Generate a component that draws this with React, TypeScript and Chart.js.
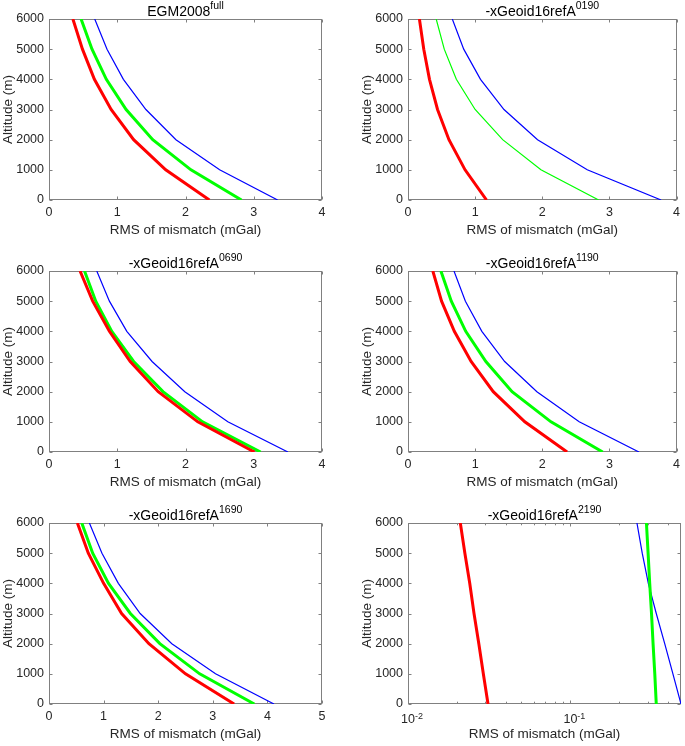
import React, { useEffect, useRef } from 'react';
import { Chart, registerables } from 'chart.js';

Chart.register(...registerables);

// ---------- data ----------
const ALTITUDES = [0, 1000, 2000, 3000, 4000, 5000, 6000];
const Y_TICKS = [0, 1000, 2000, 3000, 4000, 5000, 6000];
const X_TICKS_4 = [0, 1, 2, 3, 4];
const X_TICKS_5 = [0, 1, 2, 3, 4, 5];
const LOG_MAJOR = [0.01, 0.1];
const LOG_MAJOR_EXP = ['-2', '-1'];
const LOG_MINOR = [0.02, 0.03, 0.04, 0.05, 0.06, 0.07, 0.08, 0.09, 0.2, 0.3, 0.4];

const EGM_RED = [2.35, 1.71, 1.24, 0.91, 0.665, 0.49, 0.35];
const EGM_GREEN = [2.82, 2.08, 1.52, 1.13, 0.84, 0.63, 0.47];
const EGM_BLUE = [3.35, 2.5, 1.86, 1.42, 1.09, 0.85, 0.67];

const A0190_RED = [1.17, 0.85, 0.61, 0.44, 0.32, 0.235, 0.17];
const A0190_GREEN = [2.84, 1.98, 1.41, 1.0, 0.72, 0.54, 0.42];
const A0190_BLUE = [3.77, 2.67, 1.93, 1.43, 1.08, 0.83, 0.66];

const A0690_RED = [3.01, 2.18, 1.6, 1.19, 0.885, 0.64, 0.455];
const A0690_GREEN = [3.1, 2.25, 1.67, 1.24, 0.92, 0.685, 0.52];
const A0690_BLUE = [3.5, 2.62, 1.99, 1.51, 1.14, 0.885, 0.7];

const A1190_RED = [2.37, 1.74, 1.27, 0.94, 0.69, 0.5, 0.37];
const A1190_GREEN = [2.9, 2.13, 1.55, 1.16, 0.86, 0.645, 0.49];
const A1190_BLUE = [3.44, 2.55, 1.92, 1.44, 1.1, 0.855, 0.685];

const A1690_RED = [3.39, 2.5, 1.83, 1.33, 1.0, 0.72, 0.52];
const A1690_GREEN = [3.76, 2.76, 2.03, 1.49, 1.09, 0.8, 0.6];
const A1690_BLUE = [4.12, 3.05, 2.25, 1.67, 1.27, 0.97, 0.74];

const A2190_RED = [0.0311, 0.0291, 0.0273, 0.0255, 0.024, 0.0224, 0.021];
const A2190_GREEN = [0.338, 0.331, 0.323, 0.316, 0.308, 0.301, 0.294];
const A2190_BLUE = [0.48, 0.428, 0.381, 0.338, 0.302, 0.277, 0.257];

const TITLES = ['EGM2008', '-xGeoid16refA', '-xGeoid16refA', '-xGeoid16refA', '-xGeoid16refA', '-xGeoid16refA'];
const TITLE_SUPS = ['full', '0190', '0690', '1190', '1690', '2190'];
const X_LABEL = 'RMS of mismatch (mGal)';
const Y_LABEL = 'Altitude (m)';

// ---------- styles / layout ----------
const FONT = "'Liberation Sans', Arial, Helvetica, sans-serif";
const TEXT_COLOR = '#262626';
const FRAME_COLOR = '#808080';
const RED = '#ff0000';
const GREEN = '#00ff00';
const BLUE = '#0000ff';
const THICK = 3;
const THIN = 1.2;

const Y_BOX = 49;
const X_BOX = 40;
const TOP_PAD = 19;

type PanelCfg = {
  idx: number;
  red: number[];
  green: number[];
  blue: number[];
  greenWidth: number;
  log: boolean;
  xMin: number;
  xMax: number;
  xTicks: number[];
  L: number; T: number; R: number; B: number;
  canvasRight: number;
};

const PANELS: PanelCfg[] = [
  { idx: 0, red: EGM_RED, green: EGM_GREEN, blue: EGM_BLUE, greenWidth: THICK, log: false, xMin: 0, xMax: 4, xTicks: X_TICKS_4, L: 49, T: 19, R: 322, B: 200, canvasRight: 334 },
  { idx: 1, red: A0190_RED, green: A0190_GREEN, blue: A0190_BLUE, greenWidth: THIN, log: false, xMin: 0, xMax: 4, xTicks: X_TICKS_4, L: 408, T: 19, R: 681, B: 200, canvasRight: 685 },
  { idx: 2, red: A0690_RED, green: A0690_GREEN, blue: A0690_BLUE, greenWidth: THICK, log: false, xMin: 0, xMax: 4, xTicks: X_TICKS_4, L: 49, T: 271, R: 322, B: 452, canvasRight: 334 },
  { idx: 3, red: A1190_RED, green: A1190_GREEN, blue: A1190_BLUE, greenWidth: THICK, log: false, xMin: 0, xMax: 4, xTicks: X_TICKS_4, L: 408, T: 271, R: 681, B: 452, canvasRight: 685 },
  { idx: 4, red: A1690_RED, green: A1690_GREEN, blue: A1690_BLUE, greenWidth: THICK, log: false, xMin: 0, xMax: 5, xTicks: X_TICKS_5, L: 49, T: 523, R: 322, B: 704, canvasRight: 334 },
  { idx: 5, red: A2190_RED, green: A2190_GREEN, blue: A2190_BLUE, greenWidth: THICK, log: true, xMin: 0.01, xMax: 0.48, xTicks: LOG_MAJOR, L: 408, T: 523, R: 681, B: 704, canvasRight: 685 },
];

const toPoints = (xs: number[]) => xs.map((x, i) => ({ x, y: ALTITUDES[i] }));

const matlabPlugin = {
  id: 'matlabAxes',
  beforeDatasetsDraw(chart: any, _args: any, opts: any) {
    const { ctx, chartArea: a, scales } = chart;
    const xs = scales.x;
    const ys = scales.y;
    const l = Math.round(a.left) + 0.5;
    const r = Math.round(a.right) - 0.5;
    const t = Math.round(a.top) + 0.5;
    const b = Math.round(a.bottom) - 0.5;
    ctx.save();
    ctx.strokeStyle = FRAME_COLOR;
    ctx.lineWidth = 1;
    ctx.strokeRect(l, t, r - l, b - t);
    ctx.beginPath();
    const major = 3;
    const minor = 1.8;
    for (const v of Y_TICKS) {
      const py = Math.round(ys.getPixelForValue(v)) + 0.5;
      ctx.moveTo(l, py); ctx.lineTo(l + major, py);
      ctx.moveTo(r, py); ctx.lineTo(r - major, py);
    }
    const drawX = (v: number, len: number) => {
      const px = Math.round(xs.getPixelForValue(v)) + 0.5;
      ctx.moveTo(px, b); ctx.lineTo(px, b - len);
      ctx.moveTo(px, t); ctx.lineTo(px, t + len);
    };
    for (const v of opts.xTicks) drawX(v, major);
    if (opts.log) for (const v of LOG_MINOR) drawX(v, minor);
    ctx.stroke();
    ctx.restore();
  },
  afterDraw(chart: any, _args: any, opts: any) {
    const { ctx, chartArea: a, scales } = chart;
    ctx.save();
    // title with superscript
    const mainFont = `14px ${FONT}`;
    const supFont = `10.5px ${FONT}`;
    ctx.font = mainFont;
    const mw = ctx.measureText(opts.title).width;
    ctx.font = supFont;
    const sw = ctx.measureText(opts.sup).width;
    const cx = (a.left + a.right) / 2;
    const x0 = cx - (mw + sw) / 2;
    const base = a.top - 3.5;
    ctx.fillStyle = '#000000';
    ctx.textAlign = 'left';
    ctx.textBaseline = 'alphabetic';
    ctx.font = mainFont;
    ctx.fillText(opts.title, x0, base);
    ctx.font = supFont;
    ctx.fillText(opts.sup, x0 + mw, base - 7);
    // log tick labels
    if (opts.log) {
      ctx.fillStyle = TEXT_COLOR;
      LOG_MAJOR.forEach((v, i) => {
        const px = scales.x.getPixelForValue(v);
        ctx.font = `12.5px ${FONT}`;
        const w10 = ctx.measureText('10').width;
        ctx.fillText('10', px - w10 / 2, a.bottom + 19);
        ctx.font = `9px ${FONT}`;
        ctx.fillText(LOG_MAJOR_EXP[i], px + w10 / 2, a.bottom + 14.5);
      });
    }
    ctx.restore();
  },
};

function Panel({ cfg }: { cfg: PanelCfg }) {
  const ref = useRef<HTMLCanvasElement>(null);
  const left = cfg.L - Y_BOX;
  const top = cfg.T - TOP_PAD;
  const width = cfg.canvasRight - left;
  const height = cfg.B + X_BOX - top;

  useEffect(() => {
    const canvas = ref.current;
    if (!canvas) return;
    const chart = new Chart(canvas, {
      type: 'line',
      data: {
        datasets: [
          { data: toPoints(cfg.red), borderColor: RED, backgroundColor: RED, borderWidth: THICK, pointRadius: 0, tension: 0, fill: false },
          { data: toPoints(cfg.green), borderColor: GREEN, backgroundColor: GREEN, borderWidth: cfg.greenWidth, pointRadius: 0, tension: 0, fill: false },
          { data: toPoints(cfg.blue), borderColor: BLUE, backgroundColor: BLUE, borderWidth: THIN, pointRadius: 0, tension: 0, fill: false },
        ],
      },
      options: {
        responsive: false,
        animation: false,
        events: [],
        layout: { padding: { top: TOP_PAD, right: cfg.canvasRight - cfg.R, left: 0, bottom: 0 } },
        scales: {
          x: {
            type: cfg.log ? 'logarithmic' : 'linear',
            min: cfg.xMin,
            max: cfg.xMax,
            grid: { display: false, drawTicks: false },
            border: { display: false },
            ticks: {
              display: !cfg.log,
              stepSize: 1,
              padding: 5,
              color: TEXT_COLOR,
              font: { family: FONT, size: 12.5 },
              maxRotation: 0,
              autoSkip: false,
              callback: (v: any) => String(v),
            },
            title: {
              display: true,
              text: X_LABEL,
              color: TEXT_COLOR,
              font: { family: FONT, size: 13.5 },
              padding: { top: 0, bottom: 1.6 },
            },
            afterFit: (s: any) => { s.height = X_BOX; },
          } as any,
          y: {
            type: 'linear',
            min: 0,
            max: 6000,
            grid: { display: false, drawTicks: false },
            border: { display: false },
            ticks: {
              stepSize: 1000,
              padding: 5,
              color: TEXT_COLOR,
              font: { family: FONT, size: 12.5 },
              autoSkip: false,
              callback: (v: any) => String(v),
            },
            title: {
              display: true,
              text: Y_LABEL,
              color: TEXT_COLOR,
              font: { family: FONT, size: 13.5 },
              padding: { top: 0, bottom: 0 },
            },
            afterFit: (s: any) => { s.width = Y_BOX; },
          } as any,
        },
        plugins: {
          legend: { display: false },
          tooltip: { enabled: false },
          title: { display: false },
          matlabAxes: { title: TITLES[cfg.idx], sup: TITLE_SUPS[cfg.idx], log: cfg.log, xTicks: cfg.xTicks },
        } as any,
      },
      plugins: [matlabPlugin],
    });
    return () => chart.destroy();
  }, []);

  return (
    <canvas
      ref={ref}
      width={width}
      height={height}
      style={{ position: 'absolute', left, top, width, height }}
    />
  );
}

export default function App() {
  return (
    <div style={{ position: 'absolute', left: 0, top: 0, width: 685, height: 746, background: '#ffffff', overflow: 'hidden' }}>
      {PANELS.map((p) => (
        <Panel key={p.idx} cfg={p} />
      ))}
    </div>
  );
}
